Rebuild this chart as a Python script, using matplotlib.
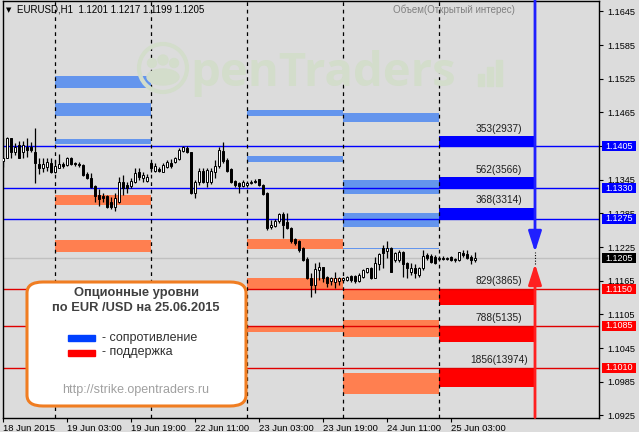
import matplotlib.pyplot as plt
from matplotlib.patches import FancyBboxPatch, Ellipse, Rectangle
import numpy as np

W, H = 639, 432
BG = '#dcdcdc'

# EURUSD H1 candles, 18 Jun 11:00 .. 25 Jun 09:00 (weekend skipped)
opens = [1.1378, 1.1384, 1.1419, 1.1394, 1.1407, 1.1394, 1.1403, 1.1403, 1.1394, 1.1373,
         1.1366, 1.1368, 1.1375, 1.1359, 1.1366, 1.1373, 1.1371, 1.1384, 1.1375, 1.1373,
         1.1371, 1.1355, 1.1348, 1.1334, 1.1318, 1.1316, 1.1316, 1.1305, 1.1296, 1.1305,
         1.1341, 1.1335, 1.1334, 1.1341, 1.1359, 1.1348, 1.1343, 1.1375, 1.1360, 1.1364,
         1.1359, 1.1368, 1.1375, 1.1376, 1.1382, 1.1396, 1.1401, 1.1394, 1.1321, 1.1341,
         1.1360, 1.1341, 1.1341, 1.1359, 1.1369, 1.1396, 1.1380, 1.1364, 1.1343, 1.1339,
         1.1334, 1.1335, 1.1339, 1.1343, 1.1346, 1.1335, 1.1321, 1.1260, 1.1262, 1.1271,
         1.1284, 1.1269, 1.1259, 1.1239, 1.1236, 1.1223, 1.1204, 1.1170, 1.1157, 1.1184,
         1.1189, 1.1171, 1.1164, 1.1162, 1.1164, 1.1166, 1.1166, 1.1173, 1.1173, 1.1164,
         1.1171, 1.1180, 1.1188, 1.1170, 1.1195, 1.1223, 1.1218, 1.1223, 1.1202, 1.1202,
         1.1216, 1.1196, 1.1180, 1.1188, 1.1175, 1.1188, 1.1211, 1.1209, 1.1207, 1.1204,
         1.1205, 1.1204, 1.1207, 1.1202, 1.1202, 1.1214, 1.1213, 1.1207, 1.1201]
highs = [1.1419, 1.1421, 1.1419, 1.1410, 1.1414, 1.1414, 1.1419, 1.1412, 1.1437, 1.1384,
         1.1384, 1.1384, 1.1384, 1.1380, 1.1391, 1.1376, 1.1385, 1.1385, 1.1376, 1.1376,
         1.1373, 1.1359, 1.1357, 1.1335, 1.1328, 1.1321, 1.1318, 1.1314, 1.1321, 1.1350,
         1.1353, 1.1341, 1.1348, 1.1366, 1.1366, 1.1359, 1.1355, 1.1376, 1.1375, 1.1368,
         1.1375, 1.1380, 1.1382, 1.1385, 1.1401, 1.1405, 1.1405, 1.1394, 1.1344, 1.1366,
         1.1366, 1.1366, 1.1366, 1.1380, 1.1403, 1.1412, 1.1384, 1.1366, 1.1344, 1.1341,
         1.1344, 1.1343, 1.1344, 1.1346, 1.1346, 1.1337, 1.1323, 1.1273, 1.1275, 1.1285,
         1.1287, 1.1285, 1.1260, 1.1241, 1.1237, 1.1225, 1.1207, 1.1179, 1.1196, 1.1198,
         1.1189, 1.1173, 1.1171, 1.1180, 1.1171, 1.1171, 1.1173, 1.1175, 1.1175, 1.1179,
         1.1186, 1.1188, 1.1189, 1.1207, 1.1214, 1.1229, 1.1236, 1.1225, 1.1216, 1.1220,
         1.1218, 1.1198, 1.1196, 1.1195, 1.1189, 1.1220, 1.1214, 1.1213, 1.1211, 1.1209,
         1.1209, 1.1207, 1.1209, 1.1205, 1.1216, 1.1220, 1.1220, 1.1211, 1.1217]
lows = [1.1368, 1.1384, 1.1384, 1.1389, 1.1384, 1.1384, 1.1385, 1.1394, 1.1339, 1.1355,
        1.1359, 1.1360, 1.1357, 1.1357, 1.1366, 1.1366, 1.1369, 1.1371, 1.1369, 1.1368,
        1.1352, 1.1346, 1.1330, 1.1305, 1.1298, 1.1305, 1.1294, 1.1293, 1.1289, 1.1303,
        1.1318, 1.1321, 1.1330, 1.1339, 1.1344, 1.1341, 1.1341, 1.1359, 1.1359, 1.1359,
        1.1359, 1.1366, 1.1366, 1.1375, 1.1380, 1.1394, 1.1393, 1.1319, 1.1312, 1.1335,
        1.1339, 1.1332, 1.1338, 1.1348, 1.1366, 1.1375, 1.1359, 1.1339, 1.1332, 1.1321,
        1.1332, 1.1332, 1.1337, 1.1339, 1.1334, 1.1318, 1.1255, 1.1257, 1.1260, 1.1268,
        1.1241, 1.1257, 1.1232, 1.1229, 1.1216, 1.1200, 1.1168, 1.1136, 1.1143, 1.1166,
        1.1162, 1.1153, 1.1157, 1.1152, 1.1157, 1.1164, 1.1164, 1.1162, 1.1161, 1.1162,
        1.1170, 1.1179, 1.1168, 1.1170, 1.1184, 1.1188, 1.1205, 1.1180, 1.1198, 1.1198,
        1.1171, 1.1170, 1.1175, 1.1170, 1.1171, 1.1184, 1.1202, 1.1196, 1.1195, 1.1200,
        1.1202, 1.1202, 1.1200, 1.1198, 1.1200, 1.1207, 1.1204, 1.1195, 1.1199]
closes = [1.1384, 1.1419, 1.1394, 1.1403, 1.1384, 1.1407, 1.1398, 1.1398, 1.1375, 1.1366,
          1.1373, 1.1376, 1.1359, 1.1369, 1.1373, 1.1369, 1.1384, 1.1373, 1.1373, 1.1371,
          1.1353, 1.1348, 1.1332, 1.1316, 1.1311, 1.1312, 1.1296, 1.1296, 1.1312, 1.1341,
          1.1330, 1.1330, 1.1343, 1.1357, 1.1350, 1.1353, 1.1350, 1.1366, 1.1369, 1.1360,
          1.1371, 1.1376, 1.1369, 1.1384, 1.1398, 1.1403, 1.1394, 1.1321, 1.1341, 1.1360,
          1.1341, 1.1362, 1.1360, 1.1369, 1.1398, 1.1378, 1.1360, 1.1341, 1.1335, 1.1334,
          1.1341, 1.1339, 1.1341, 1.1341, 1.1335, 1.1319, 1.1259, 1.1264, 1.1271, 1.1284,
          1.1264, 1.1259, 1.1236, 1.1232, 1.1220, 1.1202, 1.1170, 1.1157, 1.1186, 1.1189,
          1.1170, 1.1161, 1.1170, 1.1170, 1.1170, 1.1170, 1.1171, 1.1166, 1.1164, 1.1175,
          1.1184, 1.1188, 1.1170, 1.1196, 1.1213, 1.1214, 1.1223, 1.1180, 1.1214, 1.1216,
          1.1195, 1.1188, 1.1188, 1.1179, 1.1188, 1.1209, 1.1205, 1.1198, 1.1196, 1.1205,
          1.1204, 1.1205, 1.1202, 1.1204, 1.1216, 1.1211, 1.1205, 1.1202, 1.1205]

# day separators (bar index of 00:00)
day_starts = [13, 37, 61, 85, 109]

# option zones of previous days: (start bar, end bar, resistance zones, support zones)
past_days = [
    (13, 37, [(1.1509, 1.1530), (1.1459, 1.1481), (1.1409, 1.1418)],
             [(1.1299, 1.1318), (1.1217, 1.1238)]),
    (61, 85, [(1.1459, 1.1470), (1.1377, 1.1388)],
             [(1.1222, 1.1240), (1.1149, 1.1169), (1.1074, 1.1085)]),
    (85, 109, [(1.1448, 1.1464), (1.1320, 1.1345), (1.1260, 1.1286), (1.1221, 1.1224)],
              [(1.1131, 1.1150), (1.1065, 1.1095), (1.0963, 1.1000)]),
]

# 25.06 option levels
today_start, today_end = 109, 133
res_levels = [1.1405, 1.1330, 1.1275]
res_tops = [1.1422, 1.1349, 1.1295]
res_labels = ['353(2937)', '562(3566)', '368(3314)']
sup_levels = [1.1150, 1.1085, 1.1010]
sup_bottoms = [1.1122, 1.1056, 1.0975]
sup_labels = ['829(3865)', '788(5135)', '1856(13974)']
last_price = 1.1205
res_arrow_tip = 1.1216
sup_arrow_tip = 1.1195

ytick_vals = [1.1645, 1.1585, 1.1525, 1.1465, 1.1405, 1.1345, 1.1285, 1.1225,
              1.1165, 1.1105, 1.1045, 1.0985, 1.0925]
xtick_pos = [0, 16, 32, 48, 64, 80, 96, 112]
xtick_labels = ['18 Jun 2015', '19 Jun 03:00', '19 Jun 19:00', '22 Jun 11:00',
                '23 Jun 03:00', '23 Jun 19:00', '24 Jun 11:00', '25 Jun 03:00']

plt.rcParams['font.family'] = ['Liberation Sans', 'DejaVu Sans']

fig = plt.figure(figsize=(W / 100, H / 100), dpi=100, facecolor=BG)
ax = fig.add_axes([2.5 / W, 14.5 / H, 596.5 / W, 417 / H], facecolor=BG)
ax.set_xlim(-0.125, 149)
ax.set_ylim(1.09212, 1.16643)

# watermark
wm = '#d3ddcb'
fig.text(190 / W, 1 - 86 / H, 'penTraders', fontsize=34, color=wm, zorder=0,
         fontfamily='Open Sans', fontweight='bold')
fig.patches.append(Ellipse((163 / W, 1 - 68 / H), 48 / W, 48 / H, fill=False, ec=wm,
                           lw=3, transform=fig.transFigure, zorder=0))
for dx, dy, r in [(-11, -5, 4.5), (0, -8, 5), (11, -5, 4.5)]:
    fig.patches.append(Ellipse(((163 + dx) / W, 1 - (68 + dy) / H), 2 * r / W, 2 * r / H,
                               color=wm, transform=fig.transFigure, zorder=0))
fig.patches.append(Ellipse((163 / W, 1 - 77 / H), 32 / W, 16 / H, color=wm,
                           transform=fig.transFigure, zorder=0))
for bx, bh in [(478, 12), (487, 19), (496, 26)]:
    fig.patches.append(Rectangle((bx / W, 1 - 86 / H), 6 / W, bh / H, color=wm,
                                 transform=fig.transFigure, zorder=0))

# zones of previous days
for x0, x1, res, sup in past_days:
    for lo, hi in res:
        ax.add_patch(Rectangle((x0, lo), x1 - x0, hi - lo, color='#6495ed', lw=0, zorder=1))
    for lo, hi in sup:
        ax.add_patch(Rectangle((x0, lo), x1 - x0, hi - lo, color='#ff7f50', lw=0, zorder=1))

# today's levels
for lvl, top, lab in zip(res_levels, res_tops, res_labels):
    ax.add_patch(Rectangle((today_start, lvl), today_end - today_start, top - lvl,
                           color='#0000ff', lw=0, zorder=1))
    ax.axhline(lvl, color='#0000ff', lw=1, zorder=2)
    ax.text(124, top + 0.0005, lab, ha='center', va='bottom', fontsize=7.3, color='#202020')
for lvl, bot, lab in zip(sup_levels, sup_bottoms, sup_labels):
    ax.add_patch(Rectangle((today_start, bot), today_end - today_start, lvl - bot,
                           color='#ff0000', lw=0, zorder=1))
    ax.axhline(lvl, color='#e00000', lw=1, zorder=2)
    ax.text(124, lvl + 0.0005, lab, ha='center', va='bottom', fontsize=7.3, color='#202020')

ax.axhline(last_price, color='#c0c0c0', lw=1, zorder=1.5)

for d in day_starts:
    ax.axvline(d, color='black', lw=0.9, ls=(0, (3, 3)), zorder=2)

# candles
x = np.arange(len(opens))
o, h, l, c = map(np.array, (opens, highs, lows, closes))
ax.vlines(x, l, h, color='black', lw=0.9, zorder=3)
up = c >= o
body_lo = np.minimum(o, c)
body_h = np.maximum(np.abs(c - o), 0.00006)
ax.bar(x[up], body_h[up], bottom=body_lo[up], width=0.6, color='white', edgecolor='black',
       lw=0.7, zorder=4)
ax.bar(x[~up], body_h[~up], bottom=body_lo[~up], width=0.6, color='black', edgecolor='black',
       lw=0.7, zorder=4)

# direction arrows
ybot, ytop = ax.get_ylim()
ax.annotate('', xy=(today_end, res_arrow_tip), xytext=(today_end, ytop),
            arrowprops=dict(arrowstyle='-|>,head_length=1.25,head_width=0.4', color='#2020ff',
                            lw=2, mutation_scale=10, shrinkA=0, shrinkB=0), zorder=5)
ax.annotate('', xy=(today_end, sup_arrow_tip), xytext=(today_end, ybot),
            arrowprops=dict(arrowstyle='-|>,head_length=1.25,head_width=0.4', color='#ff2020',
                            lw=2, mutation_scale=10, shrinkA=0, shrinkB=0), zorder=5)
ax.plot([today_end, today_end], [sup_arrow_tip, res_arrow_tip], color='black', lw=0.8,
        ls=(0, (1, 1.5)), zorder=5)

# axes styling
for s in ax.spines.values():
    s.set_color('black')
    s.set_linewidth(1)
ax.yaxis.tick_right()
ax.set_yticks(ytick_vals)
# the 1.1405 label sits under the price tag, so leave it blank
ax.set_yticklabels(['' if v in res_levels else f'{v:.4f}' for v in ytick_vals], fontsize=6.6)
ax.tick_params(axis='y', direction='out', length=3, width=0.8, pad=3)
ax.set_xticks(xtick_pos)
ax.set_xticklabels(xtick_labels, fontsize=6.8, ha='left')
ax.tick_params(axis='x', direction='out', length=3, width=0.8, pad=2)

# price tags on the right scale
tags = [(v, '#0000ff') for v in res_levels] + [(last_price, 'black')] + \
       [(v, '#ff0000') for v in sup_levels]
ytr = ax.get_yaxis_transform()
px_y = (ytop - ybot) / 417
for v, bg in tags:
    ax.add_patch(Rectangle((1.0055, v - 5 * px_y), 0.057, 10 * px_y, transform=ytr,
                           fc=bg, ec='none', clip_on=False, zorder=6))
    ax.text(1.0335, v, f'{v:.4f}', transform=ytr, ha='center', va='center',
            fontsize=6.5, color='white', zorder=7, clip_on=False)

# chart header texts
fig.text(6 / W, 1 - 10 / H, '▼', fontsize=5, va='center', color='black',
         fontfamily='DejaVu Sans')
fig.text(17 / W, 1 - 10 / H, 'EURUSD,H1  1.1201 1.1217 1.1199 1.1205', fontsize=7,
         va='center', color='black')
fig.text(454 / W, 1 - 10 / H, 'Объем(Открытый интерес)', fontsize=7, va='center',
         ha='center', color='#808080')

# legend panel
fig.patches.append(FancyBboxPatch((27 / W, 1 - 406 / H), 219 / W, 124 / H,
                                  boxstyle='round,pad=0,rounding_size=0.025',
                                  transform=fig.transFigure, fc='white', ec='#f07d22',
                                  lw=2.2, zorder=10))
fig.text(136 / W, 1 - 293 / H, 'Опционные уровни', fontsize=9.3, fontweight='bold',
         color='#404040', ha='center', va='center', zorder=11)
fig.text(136 / W, 1 - 308 / H, 'по EUR /USD на 25.06.2015', fontsize=9.3, fontweight='bold',
         color='#404040', ha='center', va='center', zorder=11)
fig.patches.append(Rectangle((68 / W, 1 - 341 / H), 27 / W, 6 / H, color='#0040ff',
                             transform=fig.transFigure, zorder=11))
fig.patches.append(Rectangle((68 / W, 1 - 356 / H), 27 / W, 6 / H, color='#ff0000',
                             transform=fig.transFigure, zorder=11))
fig.text(102 / W, 1 - 338 / H, '- сопротивление', fontsize=9, color='#303030', va='center',
         zorder=11)
fig.text(102 / W, 1 - 352 / H, '- поддержка', fontsize=9, color='#303030', va='center',
         zorder=11)
fig.text(136 / W, 1 - 390 / H, 'http://strike.opentraders.ru', fontsize=9, color='#a0a0a0',
         ha='center', va='center', zorder=11)

fig.savefig('out.png', dpi=100, facecolor=BG)
